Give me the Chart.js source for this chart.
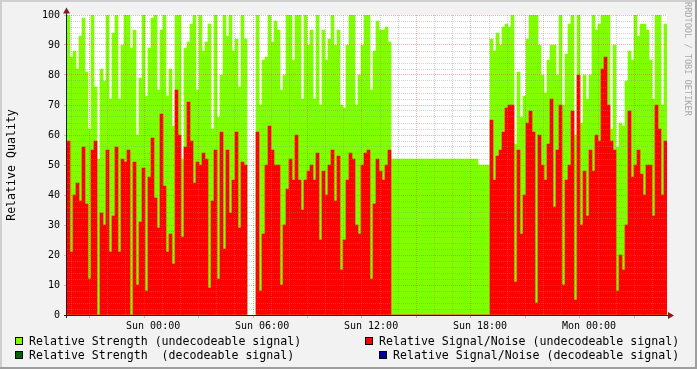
<!DOCTYPE html>
<html>
<head>
<meta charset="utf-8">
<script src="https://cdn.jsdelivr.net/npm/chart.js@4/dist/chart.umd.min.js"></script>
<style>
  html, body { margin: 0; padding: 0; background: #f2f2f2; }
  #wrap { position: relative; width: 697px; height: 369px; overflow: hidden; background: #f2f2f2;
          font-family: 'DejaVu Sans Mono', monospace; }
  #chart { position: absolute; left: 0; top: 0; }
  .leg { position: absolute; font-size: 11.6px; line-height: 14px; white-space: pre; color: #000; }
  .sq { position: absolute; width: 6px; height: 6px; border: 1px solid #000; }
  #mark { position: absolute; left: 683px; top: 2px; writing-mode: vertical-rl; font-size: 8.6px;
          color: #a9a9a9; white-space: pre; }
  .edge { position: absolute; }
</style>
</head>
<body>
<div id="wrap">
  <canvas id="chart" width="697" height="369"></canvas>
  <div id="mark">RRDTOOL / TOBI OETIKER</div>

  <div class="sq" style="left:15px; top:337px; background:#80ff00;"></div>
  <div class="leg" style="left:29px; top:334px;">Relative Strength (undecodeable signal)</div>
  <div class="sq" style="left:365px; top:337px; background:#ff0000;"></div>
  <div class="leg" style="left:379px; top:334px;">Relative Signal/Noise (undecodeable signal)</div>
  <div class="sq" style="left:15px; top:351px; background:#006400;"></div>
  <div class="leg" style="left:29px; top:348px;">Relative Strength  (decodeable signal)</div>
  <div class="sq" style="left:379px; top:351px; background:#000099;"></div>
  <div class="leg" style="left:393px; top:348px;">Relative Signal/Noise (decodeable signal)</div>

  <div class="edge" style="left:0; top:0; width:697px; height:2px; background:#cfcfcf;"></div>
  <div class="edge" style="left:0; top:0; width:2px; height:369px; background:#cfcfcf;"></div>
  <div class="edge" style="right:0; top:0; width:2px; height:369px; background:#9e9e9e;"></div>
  <div class="edge" style="left:0; bottom:0; width:697px; height:2px; background:#9e9e9e;"></div>
</div>
<script>
// one bin every 0.16 h (9.6 min), first bin at Sun 00:00 - 4.224 h
const startHour = -4.224;
const stepHours = 0.16;

const strengthUndecodeable = [
  100, 86, 88, 82, 93, 99, 81, 62, 100, 76, 52, 82, 78, 100, 72, 94, 100, 72, 90, 100, 100, 89, 95, 60, 79, 100, 73, 89, 99, 100, 75,
  95, 100, 73, 82, 63, 100, 100, 52, 89, 91, 97, 100, 75, 100, 88, 91, 97, 62, 100, 66, 80, 100, 93, 100, 88, 92, 76, 100, 92, null, null, null,
  100, 70, 85, 86, 100, 91, 98, 95, 75, 80, 100, 100, 85, 100, 100, 72, 100, 90, 95, 72, 100, 70, 95, 85, 92, 100, 90, 95, 70, 69, 90, 100, 100,
  70, 80, 90, 100, 100, 75, 88, 98, 95, 95, 96, 91,
  52, 52, 52, 52, 52, 52, 52, 52, 52, 52, 52, 52, 52, 52, 52, 52, 52, 52, 52, 52, 52, 52, 52, 52, 52, 52, 52, 52, 52,
  50, 50, 50, 50,
  92, 88, 94, 90, 96, 97, 96, 100, 57, 81, 66, 73, 92, 100, 100, 100, 90, 80, 74, 85,
  90, 90, 80, 100, 70, 87, 97, 100, 60, 100, 64, 80, 72, 80, 100, 95, 97, 100, 100, 100, 62, 90, 56, 64, 63, 78, 88, 85, 100, 93, 97, 97, 95,
  85, 72, 100, 100, 70, 97
];

const snrUndecodeable = [
  58, 21, 40, 44, 38, 56, 37, 12, 55, 58, 0, 34, 30, 55, 21, 33, 56, 21, 52, 51, 55, 0, 51, 10, 31, 49, 8, 46, 59, 39, 29,
  67, 43, 21, 27, 17, 75, 60, 26, 56, 71, 58, 44, 51, 50, 54, 52, 9, 38, 55, 12, 61, 22, 55, 34, 45, 61, 29, 51, 50, null, null, null,
  61, 8, 27, 50, 63, 55, 50, 50, 10, 30, 42, 52, 45, 60, 45, 35, 45, 48, 50, 45, 54, 25, 48, 40, 50, 55, 38, 53, 15, 25, 45, 54, 52,
  30, 27, 50, 54, 55, 12, 37, 52, 48, 45, 50, 55,
  0, 0, 0, 0, 0, 0, 0, 0, 0, 0, 0, 0, 0, 0, 0, 0, 0, 0, 0, 0, 0, 0, 0, 0, 0, 0, 0, 0, 0,
  0, 0, 0, 0,
  65, 45, 53, 55, 61, 69, 70, 70, 11, 55, 27, 40, 64, 68, 61, 4, 60, 50, 45, 57,
  72, 36, 55, 70, 10, 45, 50, 68, 5, 80, 30, 48, 33, 55, 48, 60, 58, 82, 86, 70, 58, 55, 8, 20, 15, 30, 68, 46, 50, 55, 47, 40, 50,
  50, 33, 70, 62, 40, 58
];

// no decodeable signal in this period
const strengthDecodeable = [];
const snrDecodeable = [];

const timeTickHours = [0, 6, 12, 18, 24];
const timeTickLabels = ['Sun 00:00', 'Sun 06:00', 'Sun 12:00', 'Sun 18:00', 'Mon 00:00'];
const yTickLabels = [0, 10, 20, 30, 40, 50, 60, 70, 80, 90, 100];

const gridMinor = 'rgba(143,143,143,0.4)';
const gridMajor = 'rgba(222,79,79,0.45)';
const fontMono = 'DejaVu Sans Mono';

const days = ['Sat', 'Sun', 'Mon'];
const binLabels = strengthUndecodeable.map(function (v, i) {
    const h = startHour + i * stepHours + 24;
    const d = days[Math.floor(h / 24)];
    const hh = Math.floor(h % 24), mm = Math.floor((h % 1) * 60);
    return d + ' ' + String(hh).padStart(2, '0') + ':' + String(mm).padStart(2, '0');
});

const axisPlugin = {
    id: 'rrdAxes',
    beforeDraw: function (chart) {
        const a = chart.chartArea, ctx = chart.ctx;
        ctx.save();
        ctx.fillStyle = '#ffffff';
        ctx.fillRect(a.left, a.top, a.right - a.left, a.bottom - a.top);
        ctx.restore();
    },
    afterDraw: function (chart) {
        const a = chart.chartArea, ctx = chart.ctx;
        ctx.save();
        ctx.strokeStyle = '#1f1f1f';
        ctx.lineWidth = 1;
        ctx.beginPath();
        ctx.moveTo(a.left - 0.5, a.bottom + 3);
        ctx.lineTo(a.left - 0.5, a.top - 3);
        ctx.moveTo(a.left - 3, a.bottom + 0.5);
        ctx.lineTo(a.right + 3, a.bottom + 0.5);
        ctx.stroke();
        ctx.fillStyle = '#801f1f';
        ctx.beginPath();
        ctx.moveTo(a.left - 0.5, a.top - 7.5);
        ctx.lineTo(a.left - 4, a.top - 1.5);
        ctx.lineTo(a.left + 3, a.top - 1.5);
        ctx.closePath();
        ctx.fill();
        ctx.beginPath();
        ctx.moveTo(a.right + 7, a.bottom + 0.5);
        ctx.lineTo(a.right + 1, a.bottom - 3);
        ctx.lineTo(a.right + 1, a.bottom + 4);
        ctx.closePath();
        ctx.fill();
        ctx.restore();
    }
};

const ctx = document.getElementById('chart').getContext('2d');
const chart = new Chart(ctx, {
    type: 'bar',
    data: {
        labels: binLabels,
        datasets: [{
            label: 'Relative Signal/Noise (undecodeable signal)',
            data: snrUndecodeable,
            backgroundColor: '#ff0000',
            xAxisID: 'x', grouped: false, order: 1,
            barPercentage: 1, categoryPercentage: 1, borderWidth: 0
        }, {
            label: 'Relative Strength (undecodeable signal)',
            data: strengthUndecodeable,
            backgroundColor: '#80ff00',
            xAxisID: 'x', grouped: false, order: 2,
            barPercentage: 1, categoryPercentage: 1, borderWidth: 0
        }, {
            label: 'Relative Strength  (decodeable signal)',
            data: strengthDecodeable,
            backgroundColor: '#006400',
            xAxisID: 'x', grouped: false, order: 0,
            barPercentage: 1, categoryPercentage: 1, borderWidth: 0
        }, {
            label: 'Relative Signal/Noise (decodeable signal)',
            data: snrDecodeable,
            backgroundColor: '#000099',
            xAxisID: 'x', grouped: false, order: 0,
            barPercentage: 1, categoryPercentage: 1, borderWidth: 0
        }]
    },
    options: {
        responsive: false,
        animation: false,
        layout: { padding: { left: 0, right: 30, top: 15, bottom: 34 } },
        plugins: { legend: { display: false }, tooltip: { enabled: false } },
        scales: {
            x: { type: 'category', display: false, offset: true },
            t: {
                type: 'linear', axis: 'x', position: 'bottom',
                min: startHour, max: startHour + strengthUndecodeable.length * stepHours,
                afterBuildTicks: function (s) {
                    s.ticks = [];
                    for (let h = Math.ceil(s.min); h <= s.max; h++) s.ticks.push({ value: h });
                },
                afterFit: function (s) { s.height = 20; },
                grid: {
                    z: 1, tickLength: 3,
                    color: function (c) { return c.tick && c.tick.value % 3 === 0 ? gridMajor : gridMinor; },
                    tickColor: function (c) { return c.tick && c.tick.value % 3 === 0 ? gridMajor : 'rgba(0,0,0,0)'; }
                },
                border: { display: false, dash: [1, 1] },
                ticks: {
                    autoSkip: false, maxRotation: 0, padding: 2, color: '#000',
                    font: { family: fontMono, size: 10 },
                    callback: function (v) {
                        const k = timeTickHours.indexOf(v);
                        return k >= 0 ? timeTickLabels[k] : '';
                    }
                }
            },
            y: {
                min: 0, max: 100,
                afterBuildTicks: function (s) {
                    s.ticks = [];
                    for (let v = 0; v <= 100; v += 2) s.ticks.push({ value: v });
                },
                afterFit: function (s) { s.width = 67; },
                grid: {
                    z: 1, tickLength: 3,
                    color: function (c) { return c.tick && c.tick.value % 10 === 0 ? gridMajor : gridMinor; },
                    tickColor: function (c) { return c.tick && c.tick.value % 10 === 0 ? gridMajor : 'rgba(0,0,0,0)'; }
                },
                border: { display: false, dash: [1, 1] },
                title: {
                    display: true, text: 'Relative Quality', color: '#000',
                    font: { family: fontMono, size: 11.6 }, padding: { top: 5, bottom: 0 }
                },
                ticks: {
                    autoSkip: false, padding: 4, color: '#000',
                    font: { family: fontMono, size: 10 },
                    callback: function (v) { return yTickLabels.indexOf(v) >= 0 ? String(v) : ''; }
                }
            }
        }
    },
    plugins: [axisPlugin]
});
</script>
</body>
</html>
